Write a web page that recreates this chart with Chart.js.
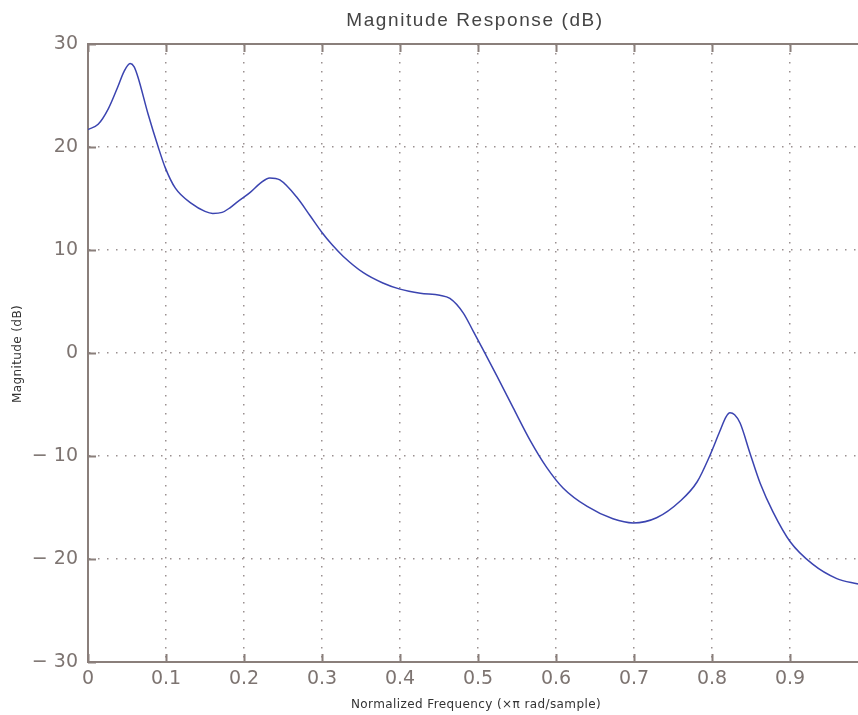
<!DOCTYPE html>
<html>
<head>
<meta charset="utf-8">
<title>Magnitude Response (dB)</title>
<script src="https://cdn.jsdelivr.net/npm/chart.js@4/dist/chart.umd.min.js"></script>
<style>
  html, body { margin: 0; padding: 0; background: #fff; overflow: hidden; }
  #wrap { width: 858px; height: 715px; overflow: hidden; }
  canvas { display: block; }
</style>
</head>
<body>
<div id="wrap"><canvas id="magChart" width="880" height="715"></canvas></div>
<script>
// normalized frequency (x pi rad/sample)
const freq = [0.000, 0.013, 0.026, 0.038, 0.046, 0.054, 0.059, 0.064, 0.077, 0.090,
              0.099, 0.112, 0.133, 0.150, 0.160, 0.172, 0.182, 0.192, 0.208, 0.221,
              0.233, 0.246, 0.268, 0.285, 0.300, 0.313, 0.327, 0.353, 0.378, 0.400,
              0.426, 0.451, 0.464, 0.481, 0.494, 0.506, 0.524, 0.545, 0.567, 0.588,
              0.609, 0.640, 0.673, 0.699, 0.729, 0.759, 0.781, 0.797, 0.810, 0.818,
              0.823, 0.829, 0.836, 0.849, 0.862, 0.878, 0.900, 0.929, 0.960, 0.986,
              0.998];
// magnitude in dB
const magDb = [21.7, 22.2, 23.7, 25.8, 27.3, 28.1, 27.8, 26.8, 23.2, 20.0,
               18.0, 16.0, 14.5, 13.75, 13.55, 13.65, 14.1, 14.7, 15.6, 16.5,
               17.0, 16.8, 15.1, 13.3, 11.7, 10.5, 9.4, 7.8, 6.8, 6.2,
               5.8, 5.6, 5.3, 3.9, 2.1, 0.4, -2.2, -5.3, -8.5, -11.1,
               -13.1, -14.9, -16.1, -16.5, -16.0, -14.4, -12.5, -10.0, -7.6, -6.2,
               -5.8, -6.0, -6.8, -9.8, -12.7, -15.4, -18.3, -20.5, -21.9, -22.4,
               -22.6];

const xTicks = [0, 0.1, 0.2, 0.3, 0.4, 0.5, 0.6, 0.7, 0.8, 0.9, 1];
const yTicks = [-30, -20, -10, 0, 10, 20, 30];

const axisColor = '#8a7f7b';
const textColor = '#7d7471';
const gridColor = '#9a9090';

const points = freq.map((f, i) => ({ x: f, y: magDb[i] }));

// titles and inward tick marks, MATLAB style
const decor = {
  id: 'decor',
  beforeDraw(chart) {
    const c = chart.ctx;
    c.save();
    c.fillStyle = '#fff';
    c.fillRect(0, 0, chart.width, chart.height);
    c.restore();
  },
  afterDraw(chart) {
    const c = chart.ctx;
    const a = chart.chartArea;
    const xs = chart.scales.x, ys = chart.scales.y;
    c.save();
    c.strokeStyle = axisColor;
    c.lineWidth = 2;
    c.beginPath();
    c.moveTo(a.left - 1, a.top);
    c.lineTo(a.right, a.top);
    c.stroke();
    c.beginPath();
    xTicks.forEach(t => {
      const px = Math.round(xs.getPixelForValue(t)) + 0.5;
      c.moveTo(px, a.bottom); c.lineTo(px, a.bottom - 8);
      c.moveTo(px, a.top); c.lineTo(px, a.top + 8);
    });
    yTicks.forEach(t => {
      const py = Math.round(ys.getPixelForValue(t)) + 0.5;
      c.moveTo(a.left, py); c.lineTo(a.left + 8, py);
    });
    c.stroke();

    c.fillStyle = '#444';
    c.font = '19px "Liberation Sans", Arial, sans-serif';
    c.letterSpacing = '1.6px';
    c.textAlign = 'center';
    c.textBaseline = 'middle';
    c.fillText('Magnitude Response (dB)', 475, 21);

    c.font = '12px "DejaVu Sans", sans-serif';
    c.letterSpacing = '0.4px';
    c.fillStyle = '#333';
    c.fillText('Normalized Frequency (\u00d7\u03c0 rad/sample)', 476, 705);

    c.translate(18, 354);
    c.rotate(-Math.PI / 2);
    c.fillText('Magnitude (dB)', 0, 0);
    c.restore();
  }
};

new Chart(document.getElementById('magChart'), {
  type: 'line',
  data: {
    datasets: [{
      data: points,
      borderColor: '#3b44b0',
      borderWidth: 1.5,
      pointRadius: 0,
      fill: false,
      cubicInterpolationMode: 'monotone'
    }]
  },
  options: {
    responsive: false,
    devicePixelRatio: 1,
    animation: false,
    layout: { padding: { top: 44, right: 12, left: 0, bottom: 0 } },
    plugins: { legend: { display: false }, tooltip: { enabled: false } },
    scales: {
      x: {
        type: 'linear',
        min: 0,
        max: 1,
        afterFit(s) { s.height = 53; },
        afterBuildTicks(s) { s.ticks = xTicks.map(v => ({ value: v })); },
        ticks: {
          color: textColor,
          font: { size: 19, family: '"DejaVu Sans", sans-serif' },
          padding: 6,
          maxRotation: 0,
          callback: v => (v === 1 ? '' : String(Number(v.toFixed(1))))
        },
        grid: { color: gridColor, lineWidth: 1.5, drawTicks: false },
        border: { color: axisColor, width: 2, dash: [1.5, 7.5] }
      },
      y: {
        min: -30,
        max: 30,
        afterFit(s) { s.width = 88; },
        afterBuildTicks(s) { s.ticks = yTicks.map(v => ({ value: v })); },
        ticks: {
          color: textColor,
          font: { size: 19, family: '"DejaVu Sans", sans-serif' },
          padding: 10,
          callback: v => (v < 0 ? '\u2212 ' + (-v) : String(v))
        },
        grid: { color: gridColor, lineWidth: 1.5, drawTicks: false },
        border: { color: axisColor, width: 2, dash: [1.5, 7.5] }
      }
    }
  },
  plugins: [decor]
});
</script>
</body>
</html>
